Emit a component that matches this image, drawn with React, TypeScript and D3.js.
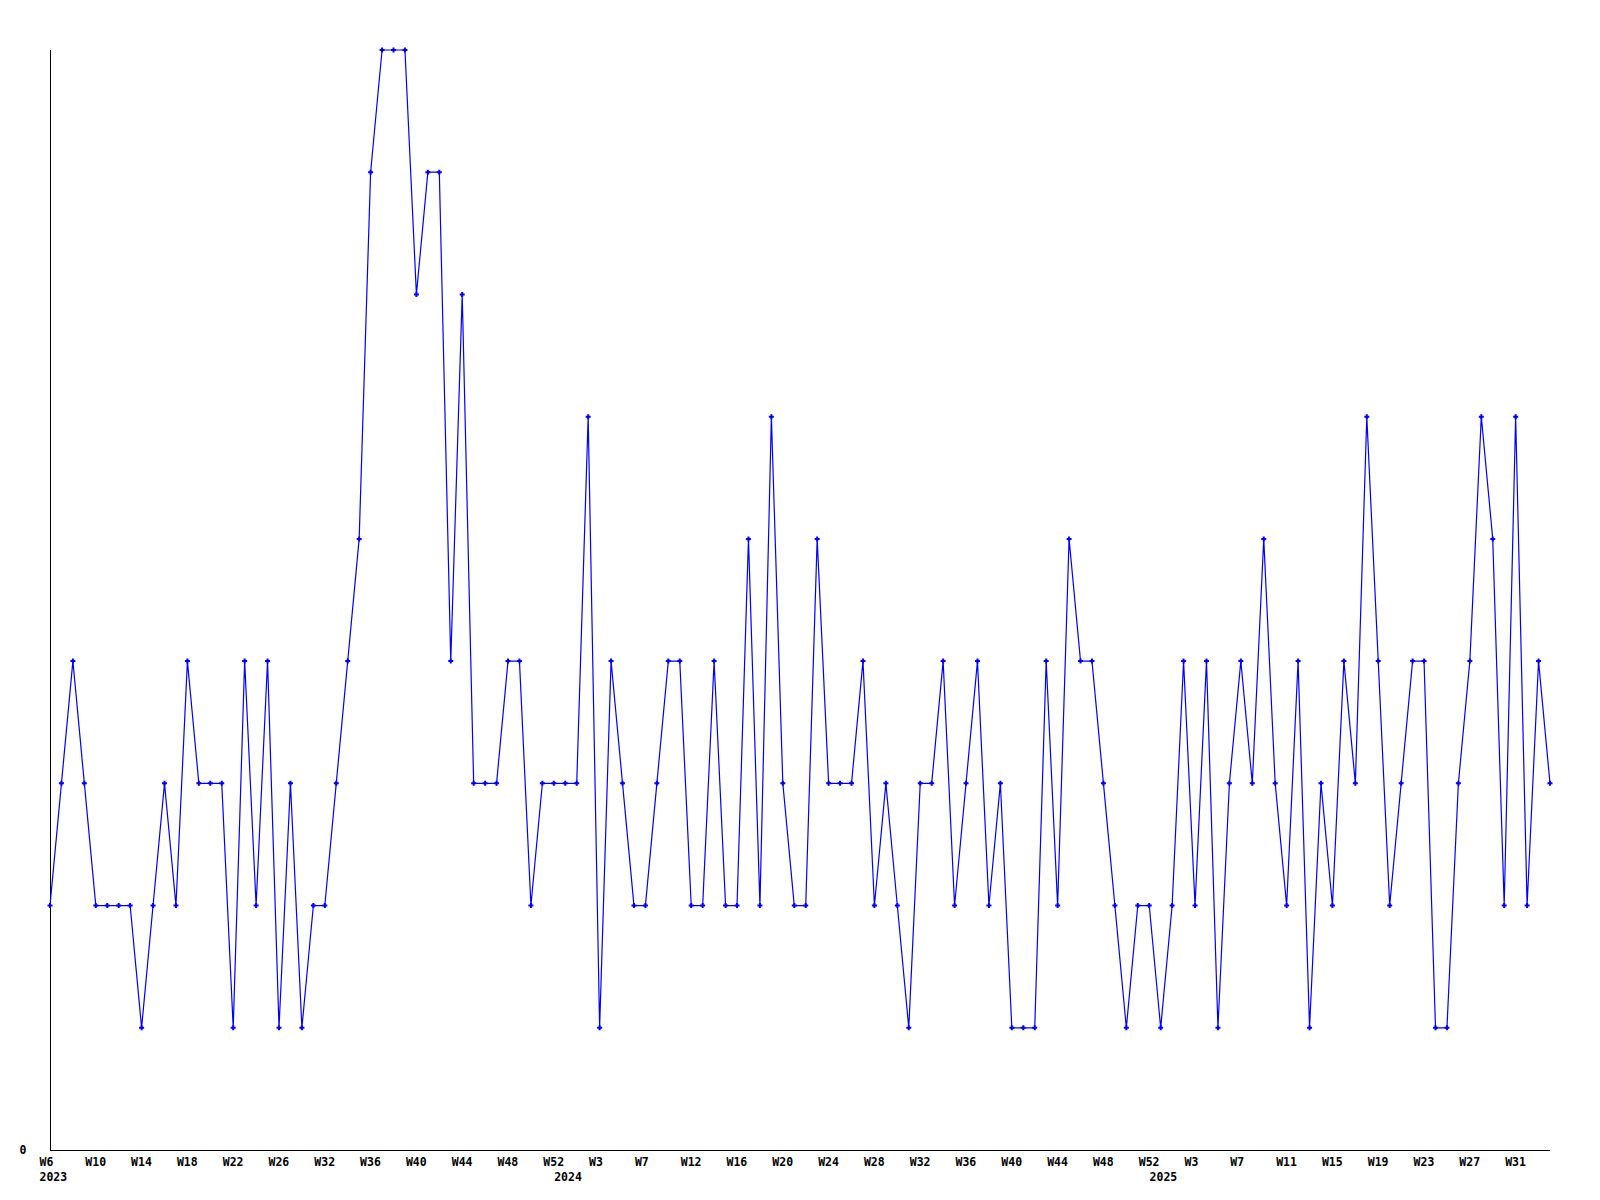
import React, { useEffect, useRef } from "react";
import * as d3 from "d3";

// one value per ISO week, W6 2023 .. W33 2025
const values: number[] = [
  2, 3, 4, 3, 2, 2, 2, 2, 1, 2,
  3, 2, 4, 3, 3, 3, 1, 4, 2, 4,
  1, 3, 1, 2, 2, 3, 4, 5, 8, 9,
  9, 9, 7, 8, 8, 4, 7, 3, 3, 3,
  4, 4, 2, 3, 3, 3, 3, 6, 1, 4,
  3, 2, 2, 3, 4, 4, 2, 2, 4, 2,
  2, 5, 2, 6, 3, 2, 2, 5, 3, 3,
  3, 4, 2, 3, 2, 1, 3, 3, 4, 2,
  3, 4, 2, 3, 1, 1, 1, 4, 2, 5,
  4, 4, 3, 2, 1, 2, 2, 1, 2, 4,
  2, 4, 1, 3, 4, 3, 5, 3, 2, 4,
  1, 3, 2, 4, 3, 6, 4, 2, 3, 4,
  4, 1, 1, 3, 4, 6, 5, 2, 6, 2,
  4, 3,
];

// tick label shown every 4th point
const weekLabels: string[] = [
  "W6", "W10", "W14", "W18", "W22", "W26", "W32", "W36", "W40", "W44", "W48", "W52",
  "W3", "W7", "W12", "W16", "W20", "W24", "W28", "W32", "W36", "W40", "W44", "W48", "W52",
  "W3", "W7", "W11", "W15", "W19", "W23", "W27", "W31",
];
const labelStep = 4;

// year captions, at the index of the first week of that year
const yearLabels: { text: string; index: number }[] = [
  { text: "2023", index: 0 },
  { text: "2024", index: 47 },
  { text: "2025", index: 99 },
];

const yMax = 9;

const App = () => {
  const ref = useRef<SVGSVGElement | null>(null);

  useEffect(() => {
    document.body.style.margin = "0";
    const svg = d3.select(ref.current);
    svg.selectAll("*").remove();

    const width = 1600;
    const height = 1200;
    const margin = { top: 50, right: 50, bottom: 50, left: 50 };
    const font = "'DejaVu Sans Mono', monospace";
    const charW = 7;

    const x = d3
      .scaleLinear()
      .domain([0, values.length - 1])
      .range([margin.left, width - margin.right]);
    const y = d3
      .scaleLinear()
      .domain([0, yMax])
      .range([height - margin.bottom, margin.top]);

    svg.append("rect").attr("width", width).attr("height", height).attr("fill", "white");

    // axes
    svg
      .append("line")
      .attr("x1", x(0) + 0.5)
      .attr("x2", x(0) + 0.5)
      .attr("y1", y(yMax))
      .attr("y2", y(0))
      .attr("stroke", "black")
      .attr("shape-rendering", "crispEdges");
    svg
      .append("line")
      .attr("x1", x(0))
      .attr("x2", x(values.length - 1))
      .attr("y1", y(0) + 0.5)
      .attr("y2", y(0) + 0.5)
      .attr("stroke", "black")
      .attr("shape-rendering", "crispEdges");

    svg
      .append("text")
      .attr("x", x(0) - 30.5)
      .attr("y", y(0) + 4)
      .attr("font-family", font)
      .attr("font-weight", "bold")
      .attr("font-size", 11.5)
      .text("0");

    // week labels (positioned as if 3 chars wide, like the original)
    svg
      .append("g")
      .selectAll("text")
      .data(weekLabels)
      .enter()
      .append("text")
      .attr("x", (_d, i) => x(i * labelStep) - charW * 1.5)
      .attr("y", y(0) + 16)
      .attr("font-family", font)
      .attr("font-weight", "bold")
      .attr("font-size", 11.5)
      .text((d) => d);

    svg
      .append("g")
      .selectAll("text")
      .data(yearLabels)
      .enter()
      .append("text")
      .attr("x", (d) => Math.max(x(d.index) - 34, x(0) - charW * 1.5))
      .attr("y", y(0) + 31)
      .attr("font-family", font)
      .attr("font-weight", "bold")
      .attr("font-size", 11.5)
      .text((d) => d.text);

    // series
    const line = d3
      .line<number>()
      .x((_d, i) => x(i))
      .y((d) => y(d));

    svg
      .append("path")
      .datum(values)
      .attr("d", line)
      .attr("fill", "none")
      .attr("stroke", "#0000ff")
      .attr("stroke-width", 1.2);

    svg
      .append("g")
      .selectAll("path")
      .data(values)
      .enter()
      .append("path")
      .attr("transform", (d, i) => `translate(${x(i)},${y(d)})`)
      .attr("d", "M-2.5,0H2.5M0,-2.5V2.5")
      .attr("stroke", "#0000ff")
      .attr("stroke-width", 2);
  }, []);

  return <svg ref={ref} width={1600} height={1200} style={{ display: "block" }} />;
};

export default App;
